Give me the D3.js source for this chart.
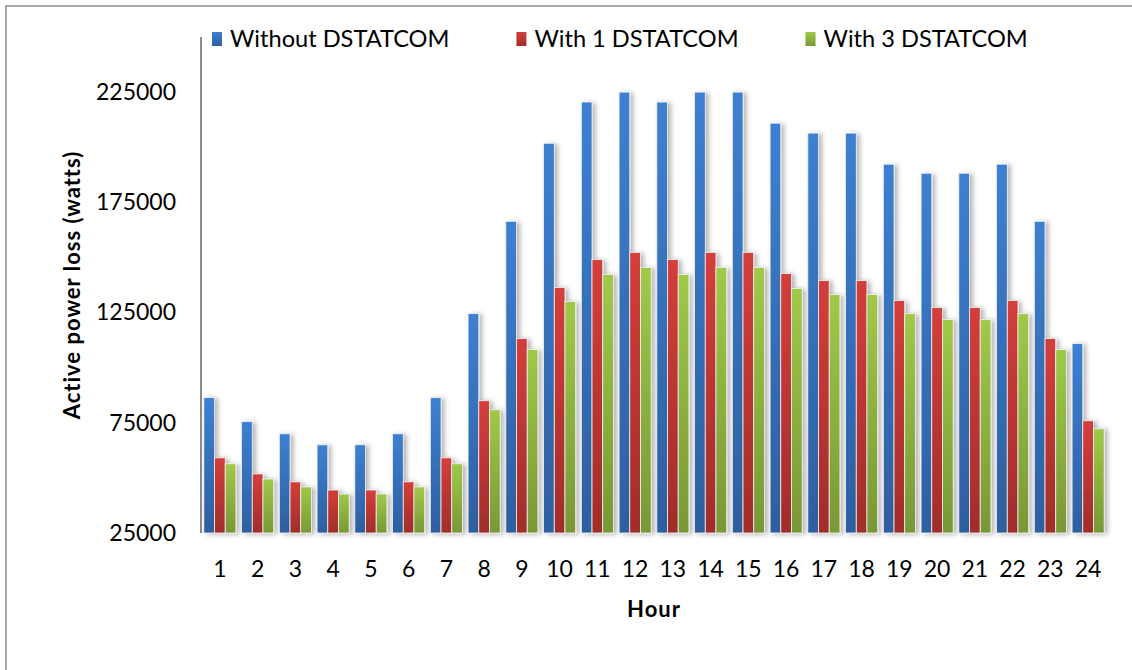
<!DOCTYPE html>
<html>
<head>
<meta charset="utf-8">
<script src="https://cdn.jsdelivr.net/npm/d3@7"></script>
<style>
  body { margin: 0; background: #fff; }
  text { font-family: Lato, "Open Sans", sans-serif; fill: #000; }
</style>
</head>
<body>
<div id="wrapper"></div>
<script>
// data
const hours = d3.range(1, 25).map(String)
const seriesNames = ["Without DSTATCOM", "With 1 DSTATCOM", "With 3 DSTATCOM"]
const withoutDstatcom = [86400, 75500, 70000, 65000, 65000, 70000, 86400, 124500, 166400, 201800, 220500, 225000,
                         220500, 225000, 225000, 210900, 206400, 206400, 192300, 188200, 188200, 192300, 166400, 110900]
const with1Dstatcom = [59100, 51800, 48200, 44500, 44500, 48200, 59100, 85000, 113200, 136400, 149100, 152300,
                       149100, 152300, 152300, 142700, 139500, 139500, 130500, 127300, 127300, 130500, 113200, 75900]
const with3Dstatcom = [56400, 49500, 45900, 42700, 42700, 45900, 56400, 80900, 108200, 130000, 142300, 145500,
                       142300, 145500, 145500, 135900, 133200, 133200, 124500, 121800, 121800, 124500, 108200, 72300]
const yTicks = [25000, 75000, 125000, 175000, 225000]

async function drawChart() {
  let dimensions = {
    width: 1132,
    height: 670,
    margin: { top: 37, right: 25, bottom: 137, left: 201 }
  }
  dimensions.boundedWidth = dimensions.width - dimensions.margin.left - dimensions.margin.right
  dimensions.boundedHeight = dimensions.height - dimensions.margin.top - dimensions.margin.bottom

  const dataset = hours.map((h, i) => ({
    hour: h,
    values: [withoutDstatcom[i], with1Dstatcom[i], with3Dstatcom[i]]
  }))

  const colors = [
    { id: "g0", top: "#3d80d2", bottom: "#2e5f9f" },
    { id: "g1", top: "#d43f3b", bottom: "#a02d2b" },
    { id: "g2", top: "#a0c94a", bottom: "#789836" }
  ]

  // scales
  const xScale = d3.scaleBand()
    .domain(hours)
    .range([0, dimensions.boundedWidth])

  const gap = xScale.bandwidth() * 0.15
  const xInner = d3.scaleBand()
    .domain(d3.range(3))
    .range([gap / 2, xScale.bandwidth() - gap / 2])

  const yScale = d3.scaleLinear()
    .domain([25000, 250000])
    .range([dimensions.boundedHeight, 0])

  const svg = d3.select("#wrapper").append("svg")
    .attr("width", dimensions.width)
    .attr("height", dimensions.height)

  const defs = svg.append("defs")
  colors.forEach(c => {
    const g = defs.append("linearGradient")
      .attr("id", c.id)
      .attr("x1", 0).attr("y1", 0).attr("x2", 0).attr("y2", 1)
    g.append("stop").attr("offset", "0%").attr("stop-color", c.top)
    g.append("stop").attr("offset", "100%").attr("stop-color", c.bottom)
  })
  const shadow = defs.append("filter")
    .attr("id", "shadow")
    .attr("x", "-50%").attr("y", "-10%")
    .attr("width", "250%").attr("height", "130%")
  shadow.append("feDropShadow")
    .attr("dx", 3).attr("dy", 1)
    .attr("stdDeviation", 2.5)
    .attr("flood-color", "#000")
    .attr("flood-opacity", 0.3)

  // outer frame
  svg.append("rect")
    .attr("x", 6).attr("y", 6)
    .attr("width", 1200).attr("height", 800)
    .attr("fill", "none")
    .attr("stroke", "#8c8c8c")
    .attr("stroke-width", 1.5)

  const bounds = svg.append("g")
    .attr("transform", `translate(${dimensions.margin.left}, ${dimensions.margin.top})`)

  // bars
  const groups = bounds.selectAll(".hour")
    .data(dataset)
    .join("g")
    .attr("class", "hour")
    .attr("transform", d => `translate(${xScale(d.hour)}, 0)`)

  groups.selectAll("rect")
    .data(d => d.values.map((v, i) => ({ v, i })))
    .join("rect")
    .attr("x", d => xInner(d.i))
    .attr("y", d => yScale(d.v))
    .attr("width", xInner.bandwidth())
    .attr("height", d => dimensions.boundedHeight - yScale(d.v))
    .attr("fill", d => `url(#${colors[d.i].id})`)
    .attr("stroke", "#f2f2f2")
    .attr("stroke-width", 0.8)
    .attr("filter", "url(#shadow)")

  // axes
  const yAxis = bounds.append("g")
    .call(d3.axisLeft(yScale).tickValues(yTicks).tickSize(0).tickPadding(25).tickFormat(d3.format("d")))
  yAxis.select(".domain").remove()
  yAxis.selectAll("text")
    .attr("font-size", 23)
    .attr("font-family", "Lato, sans-serif")

  bounds.append("line")
    .attr("x1", 0).attr("x2", 0)
    .attr("y1", 0).attr("y2", dimensions.boundedHeight)
    .attr("stroke", "#8a8a8a")
    .attr("stroke-width", 2)

  const xAxis = bounds.append("g")
    .attr("transform", `translate(0, ${dimensions.boundedHeight})`)
    .call(d3.axisBottom(xScale).tickSize(0).tickPadding(28))
  xAxis.select(".domain").remove()
  xAxis.selectAll("text")
    .attr("font-size", 23)
    .attr("font-family", "Lato, sans-serif")

  bounds.append("line")
    .attr("x1", 0).attr("x2", dimensions.boundedWidth)
    .attr("y1", dimensions.boundedHeight).attr("y2", dimensions.boundedHeight)
    .attr("stroke", "#8a8a8a")
    .attr("stroke-width", 2.5)
    .attr("filter", "url(#shadow)")

  // axis titles
  svg.append("text")
    .attr("transform", `translate(80, ${dimensions.margin.top + dimensions.boundedHeight / 2}) rotate(-90)`)
    .attr("text-anchor", "middle")
    .attr("font-size", 22)
    .attr("letter-spacing", 1)
    .attr("font-weight", "bold")
    .text("Active power loss (watts)")

  svg.append("text")
    .attr("x", dimensions.margin.left + dimensions.boundedWidth / 2)
    .attr("y", 617)
    .attr("text-anchor", "middle")
    .attr("font-size", 22)
    .attr("letter-spacing", 1)
    .attr("font-weight", "bold")
    .text("Hour")

  // legend
  const legend = svg.append("g")
  let lx = 212
  seriesNames.forEach((name, i) => {
    legend.append("rect")
      .attr("x", lx).attr("y", 32)
      .attr("width", 10).attr("height", 14)
      .attr("fill", `url(#${colors[i].id})`)
    const t = legend.append("text")
      .attr("x", lx + 18).attr("y", 47)
      .attr("font-size", 23.6)
      .text(name)
    lx += 18 + t.node().getComputedTextLength() + 67
  })
}
drawChart()
</script>
</body>
</html>
